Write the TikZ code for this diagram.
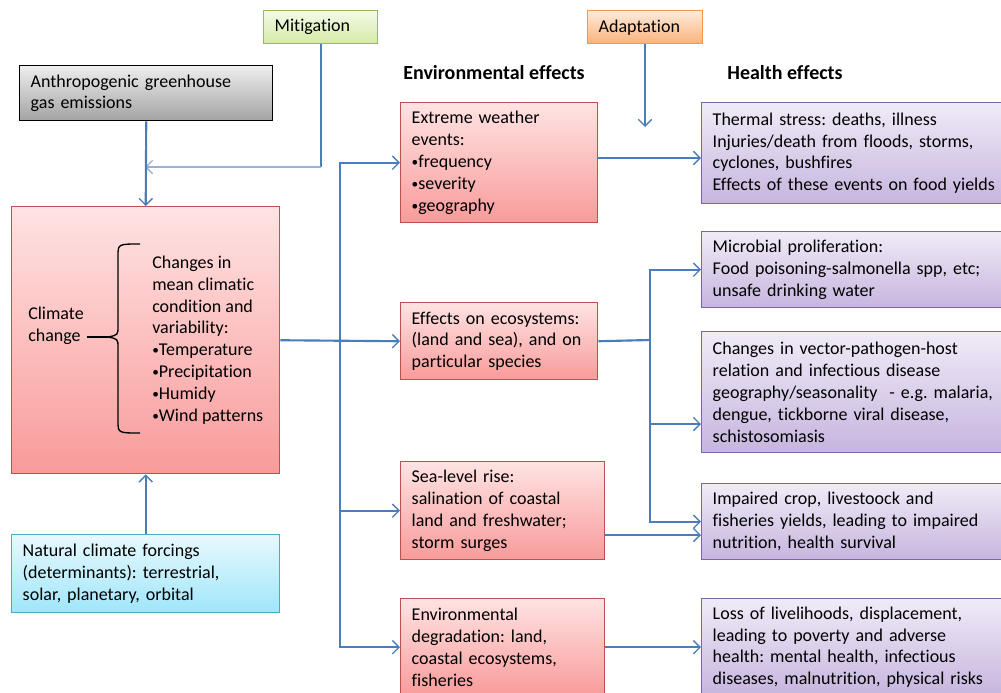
\documentclass[tikz,border=0pt]{standalone}
\usepackage{fontspec}
\setmainfont{Carlito}[Ligatures=NoCommon]
\usetikzlibrary{arrows.meta,calc}
\definecolor{ablue}{HTML}{4A7EBB}
\definecolor{lblue}{HTML}{95B3D7}
\definecolor{redB}{HTML}{C0504D}
\definecolor{redT}{HTML}{FFE3E3}
\definecolor{redBt}{HTML}{F89B9A}
\definecolor{purB}{HTML}{8064A2}
\definecolor{purT}{HTML}{F0EBF7}
\definecolor{purBt}{HTML}{C6B5DE}
\definecolor{cyaB}{HTML}{4BACC6}
\definecolor{cyaT}{HTML}{E8F9FE}
\definecolor{cyaBt}{HTML}{9FE6FA}
\definecolor{grnB}{HTML}{9BBB59}
\definecolor{grnT}{HTML}{F4FAE8}
\definecolor{grnBt}{HTML}{D3EBA6}
\definecolor{orgB}{HTML}{F79646}
\definecolor{orgT}{HTML}{FDEBDD}
\definecolor{orgBt}{HTML}{FAB27A}
\definecolor{gryT}{HTML}{EEEEEE}
\definecolor{gryBt}{HTML}{A3A3A3}
\newcommand{\bul}{\raisebox{0.6pt}{\fontsize{10}{10}\selectfont•}}
\tikzset{
  base/.style={line width=1.1pt, anchor=north west, align=left, inner xsep=8.25pt, inner ysep=0pt},
  redbox/.style={base, draw=redB, top color=redT, bottom color=redBt},
  purbox/.style={base, draw=purB, top color=purT, bottom color=purBt},
  cyabox/.style={base, draw=cyaB, top color=cyaT, bottom color=cyaBt},
  grnbox/.style={base, draw=grnB, top color=grnT, bottom color=grnBt},
  orgbox/.style={base, draw=orgB, top color=orgT, bottom color=orgBt},
  grybox/.style={base, draw=black, top color=gryT, bottom color=gryBt},
  bx/.style 2 args={minimum width={#1*0.75pt}, minimum height={#2*0.75pt}, text width={#1*0.75pt+(-16.5pt)}},
  conn/.style={draw=ablue, line width=1.6pt},
  lconn/.style={draw=lblue, line width=1.6pt},
  tip/.style={-{Straight Barb[length=5pt,width=10pt,line width=1pt]}},
  hdr/.style={font=\fontsize{15}{18}\selectfont\bfseries}
}
\begin{document}
\frenchspacing
\begin{tikzpicture}[x=0.75pt,y=-0.75pt,font=\fontsize{13.5}{16.4}\selectfont]
\useasboundingbox (0,0) rectangle (1001,693);
% top boxes
\node[grnbox,bx={114}{33}] (mit) at (263,10) {Mitigation};
\node[orgbox,bx={115}{33}] (ad) at (587,10) {Adaptation};
\node[grybox,bx={253}{55}] (anth) at (19,65) {Anthropogenic greenhouse\\gas emissions};
% climate change
\node[redbox,bx={268}{267}] (cc) at (11,206) {};
\node[anchor=west,align=left,inner sep=0pt] (cclab) at (28,326) {Climate\\change};
\node[anchor=west,align=left,inner sep=0pt] (ccl) at (152,340) {Changes in\\mean climatic\\condition and\\variability:\\\bul Temperature\\\bul Precipitation\\\bul Humidy\\\bul Wind patterns};
\coordinate (btip) at (108,337);
\draw[line width=1pt] (140,244) .. controls (118,244) .. (118,256) -- (118,326) .. controls (118,335) .. (btip)
  .. controls (118,339) .. (118,348) -- (118,421) .. controls (118,433) .. (140,433);
\draw[line width=1pt] (cclab.east |- btip) ++(3,0) -- (btip);
\node[cyabox,bx={268}{78}] (nat) at (11,534) {Natural climate forcings\\(determinants): terrestrial,\\solar, planetary, orbital};
% headers
\node[hdr] (henv) at (494,73) {Environmental effects};
\node[hdr] (hhe) at (785,73) {Health effects};
% env boxes
\node[redbox,bx={197}{120}] (e1) at (400,102) {Extreme weather\\events:\\\bul frequency\\\bul severity\\\bul geography};
\node[redbox,bx={197}{77}] (e2) at (400,302) {Effects on ecosystems:\\(land and sea), and on\\particular species};
\node[redbox,bx={204}{98}] (e3) at (400,461) {Sea-level rise:\\salination of coastal\\land and freshwater;\\storm surges};
\node[redbox,bx={204}{97}] (e4) at (400,598) {Environmental\\degradation: land,\\coastal ecosystems,\\fisheries};
% health boxes
\node[purbox,bx={320}{101}] (h1) at (701,102) {Thermal stress: deaths, illness\\Injuries/death from floods, storms,\\cyclones, bushfires\\Effects of these events on food yields};
\node[purbox,bx={320}{76}] (h2) at (701,231) {Microbial proliferation:\\Food poisoning-salmonella spp, etc;\\unsafe drinking water};
\node[purbox,bx={320}{121}] (h3) at (701,331) {Changes in vector-pathogen-host\\relation and infectious disease\\geography/seasonality \ - e.g. malaria,\\dengue, tickborne viral disease,\\schistosomiasis};
\node[purbox,bx={320}{76}] (h4) at (701,483) {Impaired crop, livestoock and\\fisheries yields, leading to impaired\\nutrition, health survival};
\node[purbox,bx={320}{97}] (h5) at (701,598) {Loss of livelihoods, displacement,\\leading to poverty and adverse\\health: mental health, infectious\\diseases, malnutrition, physical risks};
% connectors left
\coordinate (mj) at (145,167);
\draw[conn] (mit.south) -- (mit.south |- mj);
\draw[lconn,tip] (mit.south |- mj) -- (mj);
\draw[conn,tip] (anth.south) -- (cc.north);
\draw[conn,tip] (nat.north) -- (cc.south);
\coordinate (tr) at (340,340);
\draw[conn,tip] (cc.east) -- (e2.west);
\draw[conn,tip] (tr) |- (e1.west);
\draw[conn,tip] (tr) |- (e3.west);
\draw[conn,tip] (tr) |- (e4.west);
% adaptation
\coordinate (adend) at (645,127);
\draw[conn,tip] (ad.south -| adend) -- (adend);
% env -> health
\coordinate (e1o) at (597,158);
\draw[conn,tip] (e1o) -- (h1.west |- e1o);
\coordinate (tr2) at (650,340);
\draw[conn] (e2.east) -- (tr2);
\draw[conn,tip] (tr2) |- (h2.west);
\coordinate (h3in) at (701,424);
\draw[conn,tip] (tr2) |- (h3in);
\draw[conn,tip] (tr2) |- (h4.west);
\coordinate (e3o) at (604,535);
\draw[conn,tip] (e3o) -- (h4.west |- e3o);
\draw[conn,tip] (e4.east) -- (h5.west);
\end{tikzpicture}
\end{document}
